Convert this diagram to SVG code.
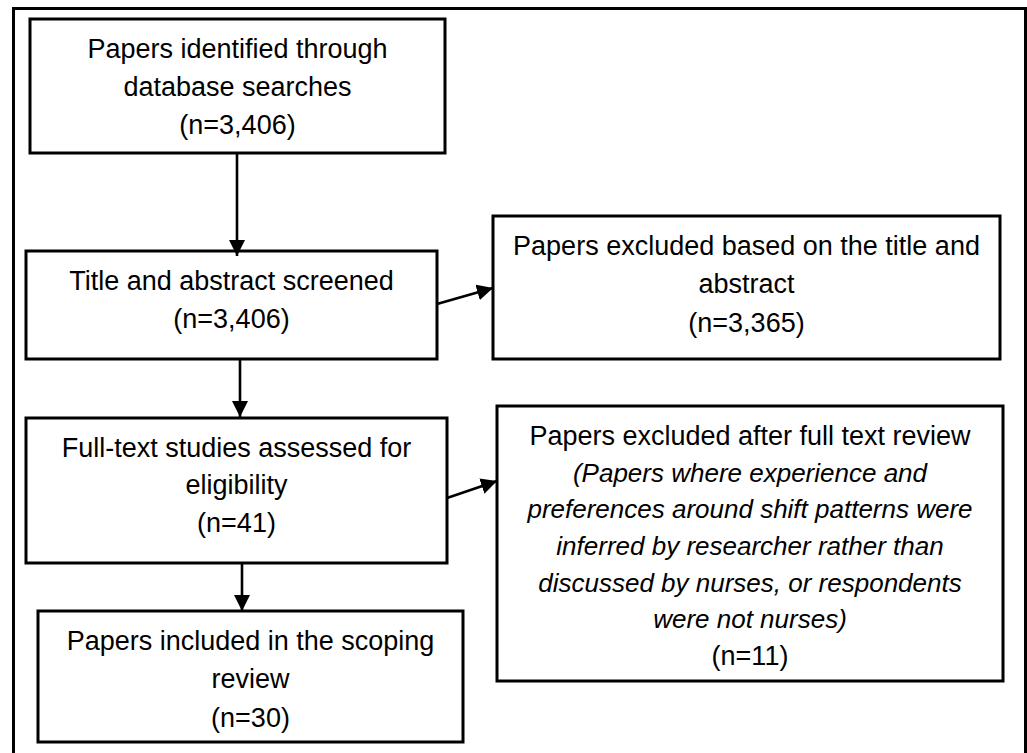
<svg xmlns="http://www.w3.org/2000/svg" width="1027" height="753" viewBox="0 0 1027 753">
<style>
.box{fill:#fff;stroke:#000;stroke-width:3}
.t{font-family:"Liberation Sans",Arial,sans-serif;font-size:27px;fill:#000;text-anchor:middle}
.i{font-style:italic;font-size:26px}
.c{stroke:#000;stroke-width:2.6;fill:none}
</style>
<defs>
<marker id="ah" markerUnits="userSpaceOnUse" markerWidth="17" markerHeight="16" refX="16" refY="8" orient="auto" viewBox="0 0 17 16">
<path d="M0,0 L16,8 L0,16 z" fill="#000"/>
</marker>
</defs>
<rect x="13.5" y="8.5" width="1012" height="760" fill="#fff" stroke="#000" stroke-width="3"/>
<g id="n1">
<rect class="box" x="30" y="19" width="415" height="134"/>
<text class="t" x="237.5" y="58">Papers identified through</text>
<text class="t" x="237.5" y="96">database searches</text>
<text class="t" x="237.5" y="134">(n=3,406)</text>
</g>
<g id="n2">
<rect class="box" x="26" y="251" width="411" height="108"/>
<text class="t" x="231.5" y="290">Title and abstract screened</text>
<text class="t" x="231.5" y="328">(n=3,406)</text>
</g>
<g id="n3">
<rect class="box" x="493" y="216" width="507" height="143"/>
<text class="t" x="746.5" y="255">Papers excluded based on the title and</text>
<text class="t" x="746.5" y="293">abstract</text>
<text class="t" x="746.5" y="332">(n=3,365)</text>
</g>
<g id="n4">
<rect class="box" x="26" y="418" width="421" height="145"/>
<text class="t" x="236.5" y="457">Full-text studies assessed for</text>
<text class="t" x="236.5" y="494">eligibility</text>
<text class="t" x="236.5" y="532">(n=41)</text>
</g>
<g id="n5">
<rect class="box" x="38" y="611" width="425" height="131"/>
<text class="t" x="250.5" y="650">Papers included in the scoping</text>
<text class="t" x="250.5" y="688">review</text>
<text class="t" x="250.5" y="727">(n=30)</text>
</g>
<g id="n6">
<rect class="box" x="497" y="406" width="506" height="275"/>
<text class="t" x="750" y="445">Papers excluded after full text review</text>
<text class="t i" x="750" y="482">(Papers where experience and</text>
<text class="t i" x="750" y="518">preferences around shift patterns were</text>
<text class="t i" x="750" y="555">inferred by researcher rather than</text>
<text class="t i" x="750" y="592">discussed by nurses, or respondents</text>
<text class="t i" x="750" y="628">were not nurses)</text>
<text class="t" x="750" y="665">(n=11)</text>
</g>
<g id="connectors">
<line class="c" x1="237" y1="153" x2="237" y2="256" marker-end="url(#ah)"/>
<line class="c" x1="437" y1="304" x2="493" y2="288" marker-end="url(#ah)"/>
<line class="c" x1="240" y1="359" x2="240" y2="417" marker-end="url(#ah)"/>
<line class="c" x1="242" y1="563" x2="242" y2="611" marker-end="url(#ah)"/>
<line class="c" x1="447" y1="498" x2="497" y2="481" marker-end="url(#ah)"/>
</g>
</svg>
